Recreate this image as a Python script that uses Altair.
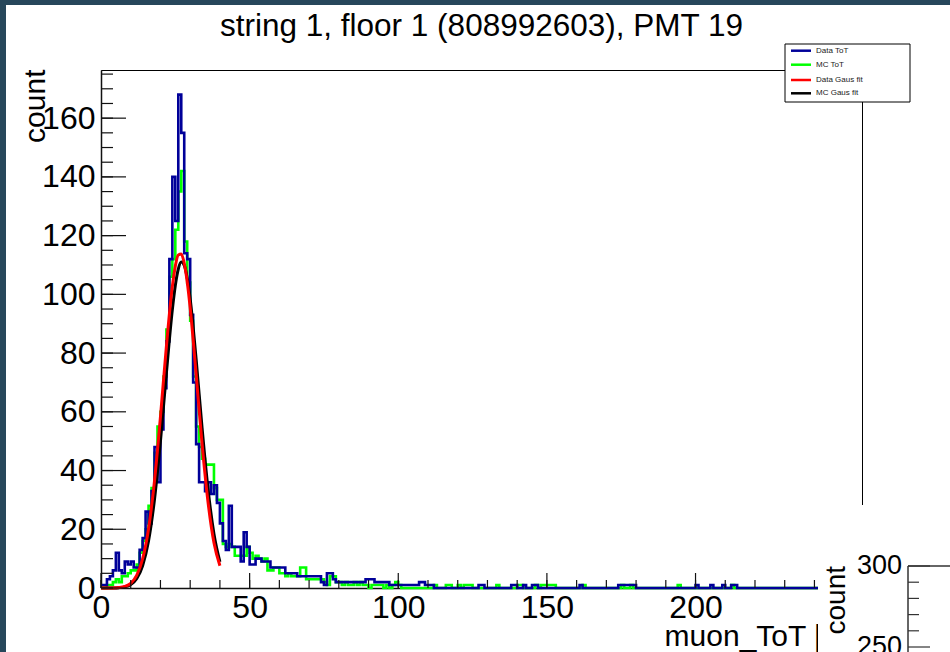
import altair as alt
import pandas as pd

# ---------------- texts ----------------
TITLE = "string 1, floor 1 (808992603), PMT 19"
X_TITLE = "muon_ToT [ns]"
Y_TITLE = "count"
PANEL2_TITLE = "count"

# ---------------- histogram data (1 ns bins, 0..256) ----------------
N_BINS = 256
# Data ToT, bins 0..111
data_head = [
    1, 1, 3, 4, 6, 12, 6, 5, 9, 8,
    9, 7, 7, 13, 17, 26, 22, 33, 48, 36,
    54, 68, 84, 112, 140, 125, 168, 155, 114, 112,
    93, 70, 49, 36, 36, 33, 36, 32, 35, 29,
    22, 16, 13, 28, 14, 14, 14, 9, 19, 14,
    8, 8, 10, 10, 9, 9, 9, 7, 7, 7,
    7, 7, 5, 5, 5, 5, 4, 4, 4, 4,
    4, 4, 4, 4, 2, 1, 5, 5, 3, 2,
    2, 2, 2, 2, 2, 2, 2, 2, 2, 3,
    3, 3, 2, 2, 2, 2, 2, 1, 1, 1,
    1, 1, 1, 1, 1, 1, 1, 2, 2, 1,
    1, 1,
]
data_tail_bins = [127, 128, 138, 139, 142, 145, 146, 161, 174, 175, 176, 177, 178, 179, 200, 205, 209, 212, 213]
data_tail_counts = [1, 1, 1, 1, 1, 1, 1, 1, 1, 1, 1, 1, 1, 1, 1, 1, 1, 1, 1]

# MC ToT, bins 0..100
mc_head = [
    0, 0, 1, 1, 2, 3, 2, 4, 4, 5,
    6, 6, 8, 12, 16, 20, 28, 34, 46, 55,
    60, 72, 88, 106, 112, 122, 135, 142, 118, 104,
    91, 72, 55, 48, 44, 42, 42, 42, 34, 30,
    30, 15, 14, 15, 14, 11, 11, 11, 11, 14,
    12, 10, 11, 10, 9, 10, 6, 6, 7, 7,
    5, 5, 4, 5, 4, 4, 4, 7, 7, 3,
    3, 3, 3, 3, 3, 2, 1, 4, 4, 2,
    2, 1, 2, 1, 1, 2, 1, 2, 1, 1,
    0, 1, 1, 1, 1, 0, 1, 0, 1, 2,
    1,
]
mc_tail_bins = [112, 116, 117, 120, 122, 123, 124, 133, 140, 141, 146, 148, 149, 150, 151, 152, 162, 175, 178, 194, 212]
mc_tail_counts = [1, 1, 1, 1, 1, 1, 1, 1, 1, 1, 1, 1, 1, 1, 1, 1, 1, 1, 1, 1, 1]

# ---------------- Gaussian fit curves ----------------
fit_x = [0, 2, 4, 6, 8, 10, 12, 14, 16, 18, 20, 22, 24, 25, 26, 27, 28, 29, 30, 32, 34, 36, 38, 40]
data_fit_y = [0, 0.01, 0.04, 0.17, 0.56, 1.6, 4.3, 9.9, 20.2, 36.5, 58.3, 82.3, 102.7, 109.6,
              113.4, 113.7, 110.6, 104.3, 95.4, 72.8, 49.1, 29.3, 15.4, 7.6]
mc_fit_y = [0, 0.01, 0.03, 0.11, 0.38, 1.2, 3.2, 7.6, 16.1, 30.2, 50.0, 73.2, 94.8, 103.0,
            108.6, 111.0, 109.9, 105.6, 98.4, 77.9, 54.5, 33.7, 18.4, 8.9]

# ---------------- axes ticks ----------------
x_major = [0, 50, 100, 150, 200, 250]
x_minor = list(range(0, 260, 10))
y_major = [0, 20, 40, 60, 80, 100, 120, 140, 160]
y_minor = list(range(0, 180, 5))
panel2_labels = [300, 250]
panel2_minor = [290, 280, 270, 260]

legend_names = ["Data ToT", "MC ToT", "Data Gaus fit", "MC Gaus fit"]
legend_colors = ["#000099", "#00ff00", "#ff0000", "#000000"]

# ---------------- style ----------------
FONT = "Liberation Sans"
W, H = 761, 518
BG = "#27475b"
X_MAX = 256
Y_MAX = 176.4
LABEL_SIZE = 32


def counts(head, tail_bins, tail_counts):
    c = [0] * N_BINS
    for i, v in enumerate(head):
        c[i] = v
    for b, v in zip(tail_bins, tail_counts):
        c[b] = v
    return c


data_counts = counts(data_head, data_tail_bins, data_tail_counts)
mc_counts = counts(mc_head, mc_tail_bins, mc_tail_counts)
edges = list(range(N_BINS)) + [N_BINS]
data_df = pd.DataFrame({"x": edges, "count": data_counts + [data_counts[-1]]})
mc_df = pd.DataFrame({"x": edges, "count": mc_counts + [mc_counts[-1]]})
dfit_df = pd.DataFrame({"x": fit_x, "count": data_fit_y})
mfit_df = pd.DataFrame({"x": fit_x, "count": mc_fit_y})

xs = alt.Scale(domain=[0, X_MAX], nice=False, zero=False)
ys = alt.Scale(domain=[0, Y_MAX], nice=False, zero=False)
# second (partially hidden) canvas: 300 at 566 px, 250 at 647 px
ys2 = alt.Scale(domain=[286.42, 606.17], nice=False, zero=False)

one = pd.DataFrame({"k": [0]})

x_axis = alt.Axis(
    values=x_major, ticks=False, domain=True, domainColor="#111", domainWidth=1.5,
    grid=False, labelFont=FONT, labelFontSize=LABEL_SIZE, labelColor="black", labelPadding=4,
    labelFlush=False, labelOverlap=False,
    title=X_TITLE, titleFont=FONT, titleFontSize=30, titleFontWeight="normal", titleColor="black",
    titleAlign="right", titleBaseline="alphabetic", titleX=W, titleY=57,
)
y_axis = alt.Axis(
    orient="left", values=y_major, ticks=False, domain=True, domainColor="#111", domainWidth=1.5,
    grid=False, labelFont=FONT, labelFontSize=LABEL_SIZE, labelColor="black", labelPadding=6,
    labelOverlap=False,
    title=Y_TITLE, titleFont=FONT, titleFontSize=30, titleFontWeight="normal", titleColor="black",
    titleAngle=270, titleAlign="right", titleBaseline="alphabetic", titleX=-57, titleY=-1,
)


def X(field):
    return alt.X(field, scale=xs, axis=x_axis)


layers = []

# dark window border strips
layers.append(alt.Chart(one).mark_rect(color=BG).encode(
    x=alt.value(-101), x2=alt.value(-95), y=alt.value(-70), y2=alt.value(H + 64)))
layers.append(alt.Chart(one).mark_rect(color=BG).encode(
    x=alt.value(-101), x2=alt.value(W + 88), y=alt.value(-70), y2=alt.value(-65)))

# histograms
layers.append(alt.Chart(mc_df).mark_line(interpolate="step-after", color=legend_colors[1], strokeWidth=2.6).encode(
    x=X("x:Q"), y=alt.Y("count:Q", scale=ys, axis=None)))
layers.append(alt.Chart(data_df).mark_line(interpolate="step-after", color=legend_colors[0], strokeWidth=2.6).encode(
    x=X("x:Q"), y=alt.Y("count:Q", scale=ys, axis=y_axis)))
# fits
layers.append(alt.Chart(mfit_df).mark_line(interpolate="monotone", color=legend_colors[3], strokeWidth=3).encode(
    x=X("x:Q"), y=alt.Y("count:Q", scale=ys, axis=None)))
layers.append(alt.Chart(dfit_df).mark_line(interpolate="monotone", color=legend_colors[2], strokeWidth=3).encode(
    x=X("x:Q"), y=alt.Y("count:Q", scale=ys, axis=None)))

# inward ticks (ROOT style)
layers.append(alt.Chart(pd.DataFrame({"x": x_minor})).mark_rule(color="#111", strokeWidth=1.2).encode(
    x=X("x:Q"), y=alt.value(H), y2=alt.value(H - 8)))
layers.append(alt.Chart(pd.DataFrame({"x": x_major})).mark_rule(color="#111", strokeWidth=1.2).encode(
    x=X("x:Q"), y=alt.value(H), y2=alt.value(H - 15)))
layers.append(alt.Chart(pd.DataFrame({"t": y_minor})).mark_rule(color="#111", strokeWidth=1.2).encode(
    y=alt.Y("t:Q", scale=ys, axis=None), x=alt.value(0), x2=alt.value(12)))
layers.append(alt.Chart(pd.DataFrame({"t": y_major})).mark_rule(color="#111", strokeWidth=1.2).encode(
    y=alt.Y("t:Q", scale=ys, axis=None), x=alt.value(0), x2=alt.value(25)))

# title as text
layers.append(alt.Chart(pd.DataFrame({"t": [TITLE]})).mark_text(
    font=FONT, fontSize=31.5, align="center", baseline="alphabetic", color="black").encode(
    text="t:N", x=alt.value(W / 2), y=alt.value(-34)))

# legend box
layers.append(alt.Chart(one).mark_rect(fill="white", stroke="black", strokeWidth=1).encode(
    x=alt.value(684), x2=alt.value(809), y=alt.value(-26), y2=alt.value(32)))
row_y = [-19.3, -5.3, 10, 23.3]
for name, col, ry in zip(legend_names, legend_colors, row_y):
    layers.append(alt.Chart(one).mark_rule(color=col, strokeWidth=2.5).encode(
        x=alt.value(690), x2=alt.value(710), y=alt.value(ry)))
    layers.append(alt.Chart(pd.DataFrame({"name": [name]})).mark_text(
        font=FONT, fontSize=8, align="left", baseline="middle", color="#222").encode(
        text="name:N", x=alt.value(715), y=alt.value(ry)))

# overlapping second canvas (bottom right)
layers.append(alt.Chart(one).mark_rect(fill="white").encode(
    x=alt.value(717), x2=alt.value(W + 90), y=alt.value(435), y2=alt.value(H + 66)))
p2 = pd.DataFrame({"v": [panel2_labels[0]]})
layers.append(alt.Chart(p2).mark_rule(color="#333", strokeWidth=1.5).encode(
    y=alt.Y("v:Q", scale=ys2, axis=None), x=alt.value(807), y2=alt.value(H + 66)))
layers.append(alt.Chart(p2).mark_rule(color="#333", strokeWidth=1.5).encode(
    y=alt.Y("v:Q", scale=ys2, axis=None), x=alt.value(807), x2=alt.value(W + 90)))
layers.append(alt.Chart(pd.DataFrame({"v": panel2_minor})).mark_rule(color="#333", strokeWidth=1.2).encode(
    y=alt.Y("v:Q", scale=ys2, axis=None), x=alt.value(807), x2=alt.value(818)))
layers.append(alt.Chart(pd.DataFrame({"v": panel2_labels})).mark_rule(color="#333", strokeWidth=1.2).encode(
    y=alt.Y("v:Q", scale=ys2, axis=None), x=alt.value(807), x2=alt.value(829)))
layers.append(alt.Chart(pd.DataFrame({"v": panel2_labels, "lab": [str(v) for v in panel2_labels]})).mark_text(
    font=FONT, fontSize=27, align="right", baseline="middle", color="black").encode(
    y=alt.Y("v:Q", scale=ys2, axis=None), x=alt.value(801), text="lab:N"))
layers.append(alt.Chart(pd.DataFrame({"v": [panel2_labels[0]], "lab": [PANEL2_TITLE]})).mark_text(
    font=FONT, fontSize=28, align="right", baseline="alphabetic", angle=270, color="black").encode(
    y=alt.Y("v:Q", scale=ys2, axis=None), x=alt.value(744), text="lab:N"))

chart = alt.layer(*layers).resolve_scale(y="independent").properties(
    width=W, height=H,
    autosize=alt.AutoSizeParams(type="none"),
    padding={"left": 101, "top": 70, "right": 88, "bottom": 64},
    background="white",
).configure_view(stroke="black", strokeWidth=1)

chart.save("out.html", embed_options={"renderer": "svg", "actions": False})
